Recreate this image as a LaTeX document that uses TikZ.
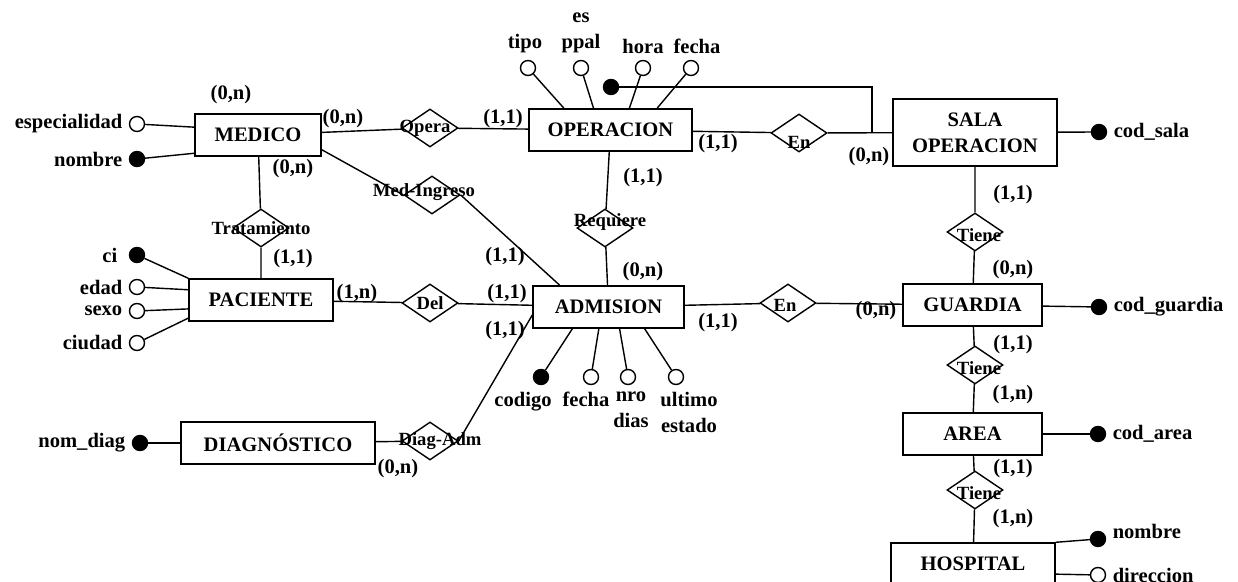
\documentclass[tikz,border=0pt]{standalone}
\usepackage{fontspec}
\setmainfont{Liberation Serif}
\usepackage{tikz}
\usetikzlibrary{shapes.geometric}

\newcommand{\atfont}{\fontsize{11.7}{15}\selectfont\bfseries}
\newcommand{\relfont}{\fontsize{10.6}{12}\selectfont\bfseries}

\begin{document}
\begin{tikzpicture}[>=latex, font=\atfont, line width=0.8pt,
	entidad/.style={rectangle, draw, minimum width=#1, minimum height=0.84cm, inner sep=2pt, align=center},
	relacion/.style={diamond, draw, minimum width=1.12cm, minimum height=0.76cm, inner sep=0pt},
	rellabel/.style={font=\relfont, inner sep=0pt},
	atrib/.style={circle, draw, fill=white, minimum size=0.3cm, inner sep=0pt, label distance=5pt},
	clave/.style={atrib, fill=black},
	card/.style={inner sep=0pt},
	every label/.append style={align=center}]
	%\draw [help lines] (0,0) grid (25,12);
	\useasboundingbox (0,0) rectangle (24.76,11.64);

	% entidades
	\node [entidad=2.52cm] (medico) at (5.16,8.94) {MEDICO};
	\node [entidad=2.88cm] (paciente) at (5.22,5.64) {PACIENTE};
	\node [entidad=3.88cm] (diagnostico) at (5.56,2.78) {DIAGNÓSTICO};
	\node [entidad=3.26cm] (operacion) at (12.21,9.04) {OPERACION};
	\node [entidad=3.02cm] (admision) at (12.17,5.50) {ADMISION};
	\node [entidad=3.28cm, minimum height=1.34cm] (salaop) at (19.50,8.99) {SALA\\OPERACION};
	\node [entidad=2.78cm] (guardia) at (19.45,5.54) {GUARDIA};
	\node [entidad=2.78cm] (area) at (19.45,2.96) {AREA};
	\node [entidad=3.28cm] (hospital) at (19.46,0.36) {HOSPITAL};

	% relaciones
	\node [relacion, label={[rellabel, xshift=-0.1cm]center:Opera}] (opera) at (8.60,9.08) {};
	\node [relacion, label={[rellabel, xshift=-0.16cm, yshift=0.06cm]center:Med-Ingreso}] (medingreso) at (8.64,7.74) {};
	\node [relacion, label={[rellabel]center:Tratamiento}] (tratamiento) at (5.22,7.08) {};
	\node [relacion, label={[rellabel]center:Del}] (del) at (8.60,5.58) {};
	\node [relacion, label={[rellabel, xshift=0.2cm]center:Diag-Adm}] (diagadm) at (8.60,2.82) {};
	\node [relacion, label={[rellabel, xshift=0.1cm, yshift=0.12cm]center:Requiere}] (requiere) at (12.10,7.08) {};
	\node [relacion, label={[rellabel, yshift=-0.18cm]center:En}] (enop) at (15.98,8.98) {};
	\node [relacion, label={[rellabel, xshift=-0.06cm, yshift=-0.04cm]center:En}] (enadm) at (15.76,5.58) {};
	\node [relacion, label={[rellabel, xshift=0.08cm, yshift=-0.06cm]center:Tiene}] (tienesala) at (19.50,7.00) {};
	\node [relacion, label={[rellabel, xshift=0.08cm, yshift=-0.06cm]center:Tiene}] (tieneguardia) at (19.50,4.34) {};
	\node [relacion, label={[rellabel, xshift=0.08cm, yshift=-0.06cm]center:Tiene}] (tienearea) at (19.50,1.84) {};

	% atributos
	\node [atrib, label=left:especialidad] (especialidad) at (2.74,9.16) {};
	\node [clave, label=left:nombre] (nombremed) at (2.74,8.46) {};
	\node [clave, label={[xshift=-0.1cm]left:ci}] (ci) at (2.74,6.54) {};
	\node [atrib, label=left:edad] (edad) at (2.74,5.90) {};
	\node [atrib, label=left:sexo] (sexo) at (2.74,5.42) {};
	\node [atrib, label=left:ciudad] (ciudad) at (2.74,4.78) {};
	\node [clave, label=left:nom\_diag] (nomdiag) at (2.80,2.78) {};
	\node [atrib, label={[xshift=-0.06cm]above:tipo}] (tipo) at (10.56,10.28) {};
	\node [atrib, label=above:{es\\ppal}] (esppal) at (11.62,10.28) {};
	\node [atrib, label=above:hora] (hora) at (12.86,10.28) {};
	\node [atrib, label={[xshift=0.12cm]above:fecha}] (fechaop) at (13.82,10.28) {};
	\node [clave] (claveop) at (12.22,9.90) {};
	\node [clave, label={[xshift=-0.36cm]below:codigo}] (codigo) at (10.82,4.10) {};
	\node [atrib, label={[xshift=-0.1cm]below:fecha}] (fechaadm) at (11.82,4.10) {};
	\node [atrib, label={[xshift=0.06cm]below:{nro\\dias}}] (nrodias) at (12.56,4.10) {};
	\node [atrib, label={[xshift=0.26cm]below:{ultimo\\estado}}] (ultimo) at (13.52,4.10) {};
	\node [clave, label=right:cod\_sala] (codsala) at (21.98,9.00) {};
	\node [clave, label=right:cod\_guardia] (codguardia) at (21.98,5.50) {};
	\node [clave, label=right:cod\_area] (codarea) at (21.96,2.96) {};
	\node [clave, label={[yshift=0.16cm]right:nombre}] (nombrehosp) at (21.96,0.86) {};
	\node [atrib, label=right:direccion] (direccion) at (21.96,0.14) {};

	% cardinalidades
	\node [card] (k1) at (4.62,9.74) {(0,n)};
	\node [card] (k2) at (6.86,9.26) {(0,n)};
	\node [card] (k3) at (5.86,8.26) {(0,n)};
	\node [card] (k4) at (5.86,6.46) {(1,1)};
	\node [card] (k5) at (7.14,5.76) {(1,n)};
	\node [card] (k6) at (10.06,9.26) {(1,1)};
	\node [card] (k7) at (14.36,8.76) {(1,1)};
	\node [card] (k8) at (17.38,8.50) {(0,n)};
	\node [card] (k9) at (12.86,8.08) {(1,1)};
	\node [card] (k10) at (10.10,6.50) {(1,1)};
	\node [card] (k11) at (12.86,6.20) {(0,n)};
	\node [card] (k12) at (10.14,5.76) {(1,1)};
	\node [card] (k13) at (10.10,5.02) {(1,1)};
	\node [card] (k14) at (14.36,5.18) {(1,1)};
	\node [card] (k15) at (17.52,5.42) {(0,n)};
	\node [card] (k16) at (20.26,7.74) {(1,1)};
	\node [card] (k17) at (20.26,6.24) {(0,n)};
	\node [card] (k18) at (20.26,4.74) {(1,1)};
	\node [card] (k19) at (20.26,3.74) {(1,n)};
	\node [card] (k20) at (20.26,2.26) {(1,1)};
	\node [card] (k21) at (20.26,1.26) {(1,n)};
	\node [card] (k22) at (7.96,2.26) {(0,n)};

	% lineas de relaciones
	\draw (medico) -- (opera) -- (operacion);
	\draw (medico.347) -- (medingreso.west);
	\draw (medingreso.east) -- (admision.156);
	\draw (medico) -- (tratamiento) -- (paciente);
	\draw (paciente) -- (del) -- (admision);
	\draw (diagnostico) -- (diagadm);
	\draw (diagadm.east) -- (admision.186);
	\draw (operacion) -- (requiere) -- (admision);
	\draw (operacion) -- (enop) -- (salaop);
	\draw (admision) -- (enadm) -- (guardia);
	\draw (salaop) -- (tienesala) -- (guardia);
	\draw (guardia) -- (tieneguardia) -- (area);
	\draw (area) -- (tienearea) -- (hospital);
	\coordinate (union) at (17.44,8.99);
	\draw (claveop) -| (union);

	% lineas de atributos
	\draw (especialidad) -- (medico.173);
	\draw (nombremed) -- (medico.196);
	\draw (ci) -- (paciente.north west);
	\draw (edad) -- (paciente.172);
	\draw (sexo) -- (paciente.187);
	\draw (ciudad) -- (paciente.194);
	\draw (nomdiag) -- (diagnostico);
	\draw (tipo) -- (operacion.155);
	\draw (esppal) -- (operacion.128);
	\draw (hora) -- (operacion.49);
	\draw (fechaop) -- (operacion.25);
	\draw (codigo) -- (admision.211);
	\draw (fechaadm) -- (admision.246);
	\draw (nrodias) -- (admision.297);
	\draw (ultimo) -- (admision.329);
	\draw (codsala) -- (salaop);
	\draw (codguardia) -- (guardia);
	\draw (codarea) -- (area);
	\draw (nombrehosp) -- (hospital.north east);
	\draw (direccion) -- (hospital.353);
\end{tikzpicture}
\end{document}
